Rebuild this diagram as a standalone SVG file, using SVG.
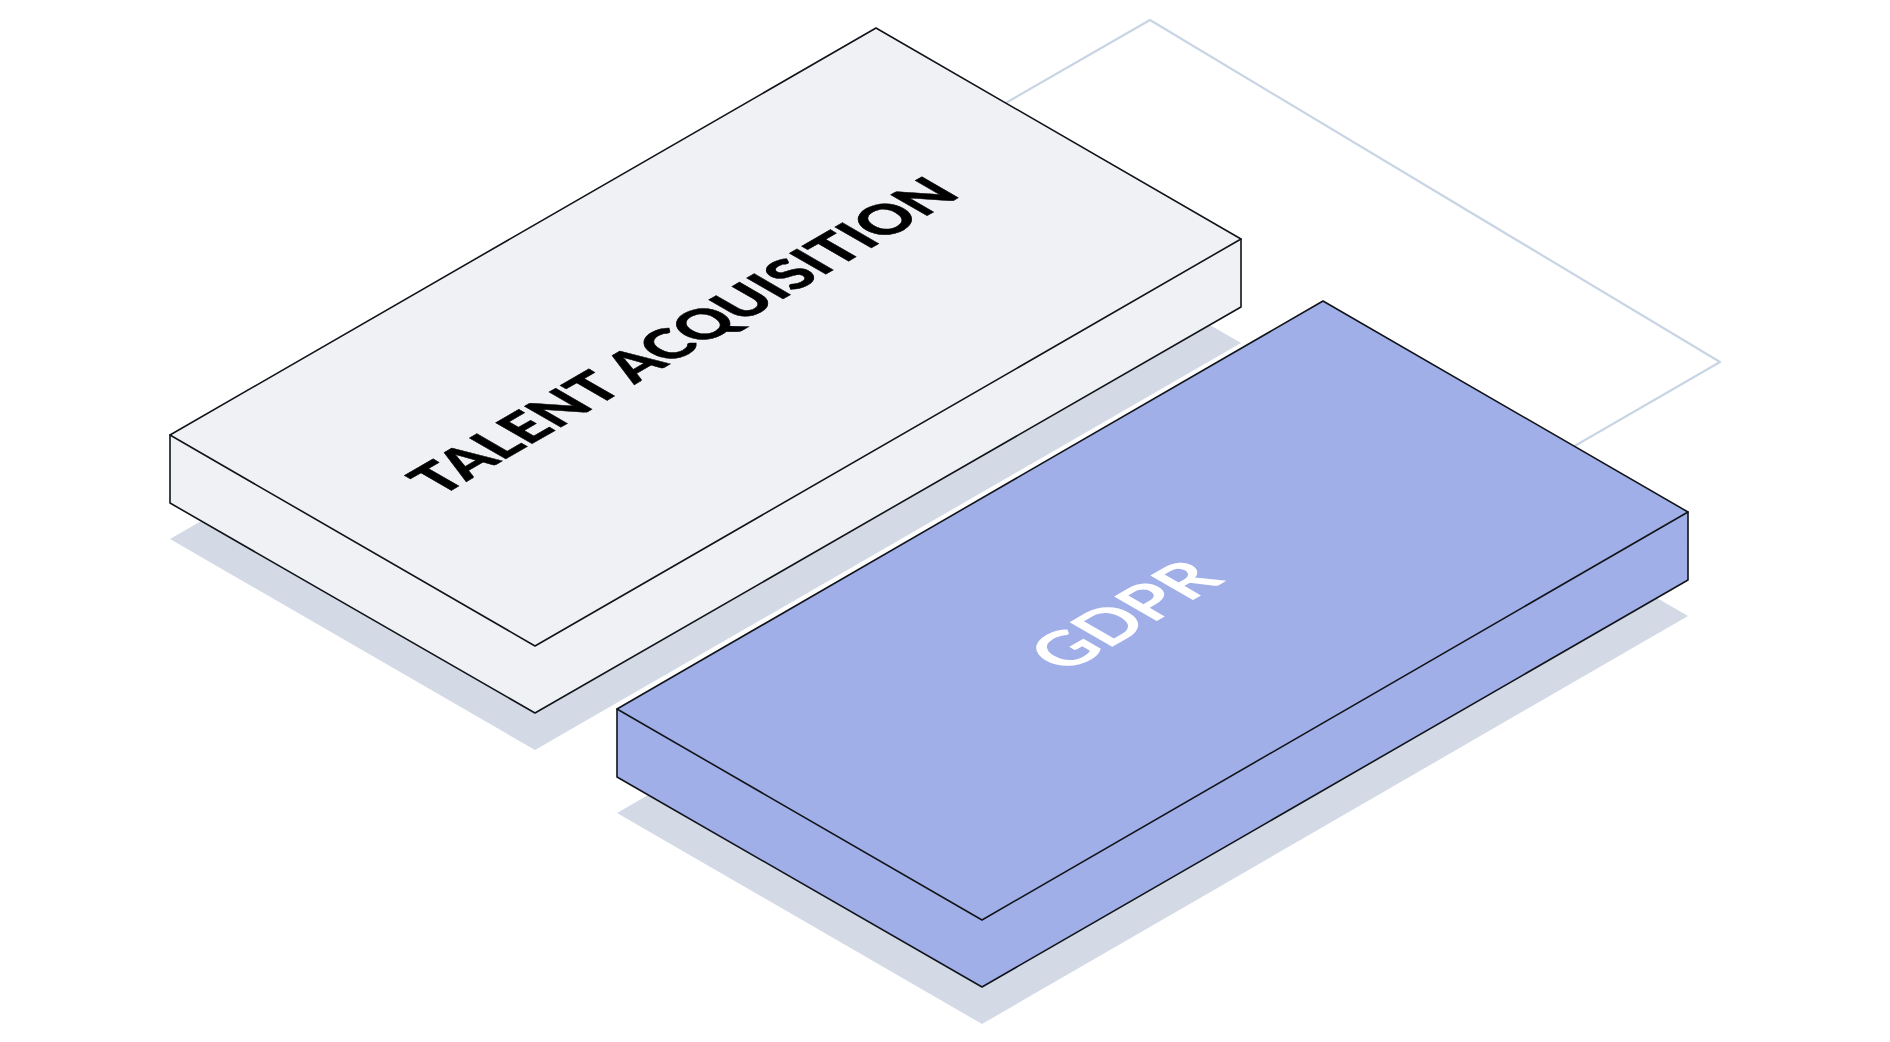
<svg xmlns="http://www.w3.org/2000/svg" width="1890" height="1042" viewBox="0 0 1890 1042">
  <style>
    .edge { stroke: #111418; stroke-width: 1.6; stroke-linejoin: round; }
    .shadow { fill: #d3dae6; }
    .label { font-family: Lato, "Open Sans", "Liberation Sans", sans-serif; }
  </style>
  <rect width="1890" height="1042" fill="#ffffff"/>
  <g id="connectors"></g>
  <g id="back-plane">
    <polyline points="950,135 1150,20 1720,362 1500,489" fill="none" stroke="#c8d5e4" stroke-width="2.2" stroke-linejoin="round"/>
  </g>
  <g id="talent-acquisition">
    <polygon class="shadow" points="170,539 876,132 1241,343 535,750"/>
    <polygon class="edge" fill="#eff1f5" points="170,435 170,503 535,713 1241,307 1241,239"/>
    <polygon class="edge" fill="#eff1f5" points="170,435 876,28 1241,239 535,646"/>
    <g transform="matrix(0.866 -0.5 0.866 0.5 440 497)">
      <text class="label" x="0" y="0" font-size="58" font-weight="900" fill="#000000" stroke="#000000" stroke-width="0.6" textLength="603" lengthAdjust="spacing">TALENT ACQUISITION</text>
    </g>
  </g>
  <g id="gdpr">
    <polygon class="shadow" points="617,813 1323,405 1688,616 982,1024"/>
    <polygon class="edge" fill="#a1afe9" points="617,709 617,777 982,987 1688,580 1688,512"/>
    <polygon class="edge" fill="#a1afe9" points="617,709 1323,301 1688,512 982,920"/>
    <g transform="matrix(0.866 -0.5 0.866 0.5 1065 674)">
      <text class="label" x="0" y="0" font-size="68" font-weight="700" fill="#ffffff" textLength="186" lengthAdjust="spacing">GDPR</text>
    </g>
  </g>
</svg>
